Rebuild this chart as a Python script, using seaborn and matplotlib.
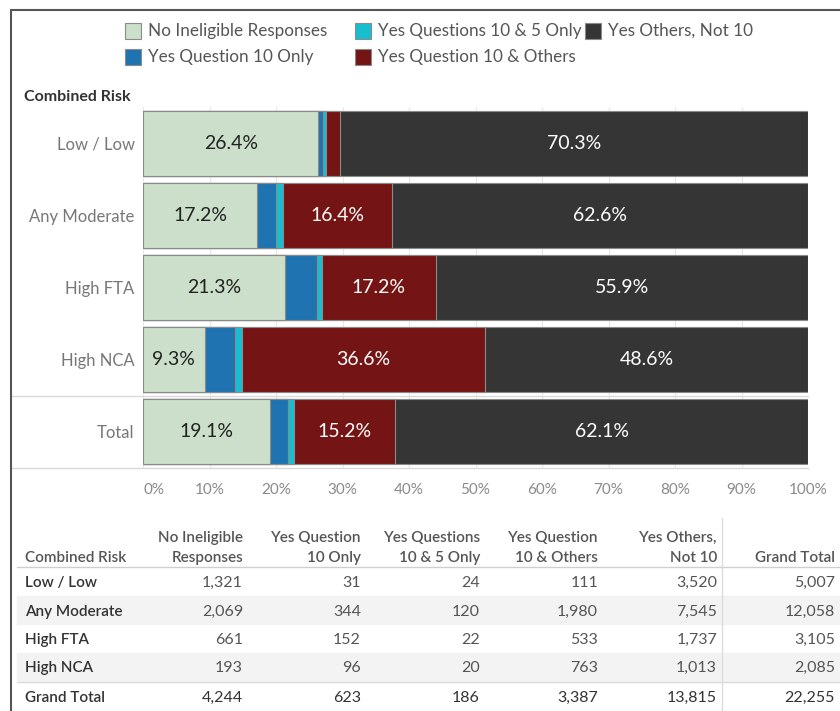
import numpy as np
import pandas as pd
import matplotlib.pyplot as plt
import matplotlib.patches as mpatches
from matplotlib.lines import Line2D
from matplotlib.transforms import blended_transform_factory
import seaborn as sns

# counts per combined-risk group
risk_groups = ["Low / Low", "Any Moderate", "High FTA", "High NCA"]
no_ineligible = [1321, 2069, 661, 193]
yes_q10_only = [31, 344, 152, 96]
yes_q10_q5_only = [24, 120, 22, 20]
yes_q10_others = [111, 1980, 533, 763]
yes_others_not10 = [3520, 7545, 1737, 1013]

series_names = ["No Ineligible Responses", "Yes Question 10 Only",
                "Yes Questions 10 & 5 Only", "Yes Question 10 & Others",
                "Yes Others, Not 10"]
table_headers = ["No Ineligible\nResponses", "Yes Question\n10 Only",
                 "Yes Questions\n10 & 5 Only", "Yes Question\n10 & Others",
                 "Yes Others,\nNot 10", "Grand Total"]
colors = ["#cbdfca", "#1f73b0", "#17becf", "#741414", "#353535"]
x_ticks = [0, 10, 20, 30, 40, 50, 60, 70, 80, 90, 100]

sns.set_theme(style="white")
plt.rcParams['font.family'] = ['Lato', 'DejaVu Sans']

W, H = 840, 711
def fx(x):
    return x / W
def fy(y):
    return 1 - y / H

counts = pd.DataFrame(dict(zip(series_names, [no_ineligible, yes_q10_only, yes_q10_q5_only,
                                              yes_q10_others, yes_others_not10])),
                      index=risk_groups)
bar_rows = risk_groups + ["Total"]
counts_all = pd.concat([counts, counts.sum().to_frame("Total").T])
shares = counts_all.div(counts_all.sum(axis=1), axis=0) * 100
cum = shares.cumsum(axis=1)

fig = plt.figure(figsize=(W / 100, H / 100), dpi=100)
ax = fig.add_axes([fx(143), fy(468), fx(808) - fx(143), fy(107) - fy(468)])

# stacked bars: draw cumulative totals from the widest layer down
for i in reversed(range(len(series_names))):
    layer = cum.iloc[:, i].rename("cum").rename_axis("group").reset_index()
    sns.barplot(data=layer, x="cum", y="group", order=bar_rows, color=colors[i],
                saturation=1, width=0.9, edgecolor="#8a8a8a", linewidth=0.8,
                orient="h", ax=ax)

for r, grp in enumerate(bar_rows):
    left = 0
    for i, name in enumerate(series_names):
        w = shares.loc[grp, name]
        if w >= 5:
            ax.text(left + w / 2, r, f"{w:.1f}%", ha="center", va="center",
                    fontsize=14, color="#222222" if i == 0 else "white")
        left += w

ax.set_xlim(0, 100)
ax.set_ylim(4.5, -0.5)
ax.set_xlabel("")
ax.set_ylabel("")
ax.set_xticks(x_ticks)
ax.set_xticklabels([f"{t}%" for t in x_ticks])
ax.get_xticklabels()[0].set_ha("left")
ax.tick_params(axis="x", length=0, pad=11, labelsize=11, labelcolor="#8a8a8a")
ax.tick_params(axis="y", length=0, pad=6, labelsize=12, labelcolor="#777777")
for s in ax.spines.values():
    s.set_visible(False)
ax.grid(axis="x", color="#e8e8e8", lw=0.8)
ax.set_axisbelow(True)

trans = blended_transform_factory(fig.transFigure, ax.transData)
for yv in (3.5, 4.5):
    ax.plot([fx(11), fx(808)], [yv, yv], transform=trans, color="#d9d9d9", lw=1, clip_on=False)

fig.text(fx(24), fy(97), "Combined Risk", ha="left", va="center", fontsize=11.5,
         fontweight="bold", color="#333333")

# legend, laid out in three columns like the original
leg_x = [125, 125, 355, 355, 585]
leg_y = [31, 57, 31, 57, 31]
for c, n, lx, ly in zip(colors, series_names, leg_x, leg_y):
    fig.add_artist(mpatches.Rectangle((fx(lx), fy(ly + 8)), 16 / W, 16 / H,
                                      transform=fig.transFigure, facecolor=c,
                                      edgecolor="#8a8a8a", lw=0.8))
    fig.text(fx(lx + 23), fy(ly), n, ha="left", va="center", fontsize=12.3, color="#555555")

# outer frame
fig.add_artist(Line2D([fx(11), 1], [fy(10), fy(10)], color="#555555", lw=1.5))
fig.add_artist(Line2D([fx(11), fx(11)], [fy(10), 0], color="#555555", lw=1.5))

# table under the chart
col_x = [243, 361, 480, 598, 717, 835]
row_y = [583, 612, 640, 668, 698]
for y0, y1 in [(596, 624), (653, 682)]:
    fig.add_artist(mpatches.Rectangle((fx(17), fy(y1)), 1 - fx(17), (y1 - y0) / H,
                                      transform=fig.transFigure, color="#f3f3f3", zorder=0))
fig.add_artist(Line2D([fx(17), 1], [fy(567), fy(567)], color="#cfcfcf", lw=1))
fig.add_artist(Line2D([fx(17), 1], [fy(682), fy(682)], color="#dcdcdc", lw=1))
fig.add_artist(Line2D([fx(722), fx(722)], [fy(518), 0], color="#dcdcdc", lw=1))

fig.text(fx(25), fy(558), "Combined Risk", ha="left", va="center", fontsize=11,
         fontweight="semibold", color="#555555")
for hx, head in zip(col_x, table_headers):
    lines = head.split("\n")
    ys = [538, 558] if len(lines) == 2 else [558]
    for line, hy in zip(lines, ys):
        fig.text(fx(hx), fy(hy), line, ha="right", va="center", fontsize=11,
                 fontweight="semibold", color="#555555")

table_rows = risk_groups + ["Grand Total"]
for r, (label, ry) in enumerate(zip(table_rows, row_y)):
    vals = list(counts_all.iloc[r]) + [counts_all.iloc[r].sum()]
    txt_col = "#333333" if label == "Grand Total" else "#555555"
    fig.text(fx(25), fy(ry), label, ha="left", va="center", fontsize=11,
             fontweight="semibold", color="#333333")
    for vx, v in zip(col_x, vals):
        fig.text(fx(vx), fy(ry), f"{int(v):,}", ha="right", va="center",
                 fontsize=11.5, color=txt_col)

fig.savefig("out.png", dpi=100)
